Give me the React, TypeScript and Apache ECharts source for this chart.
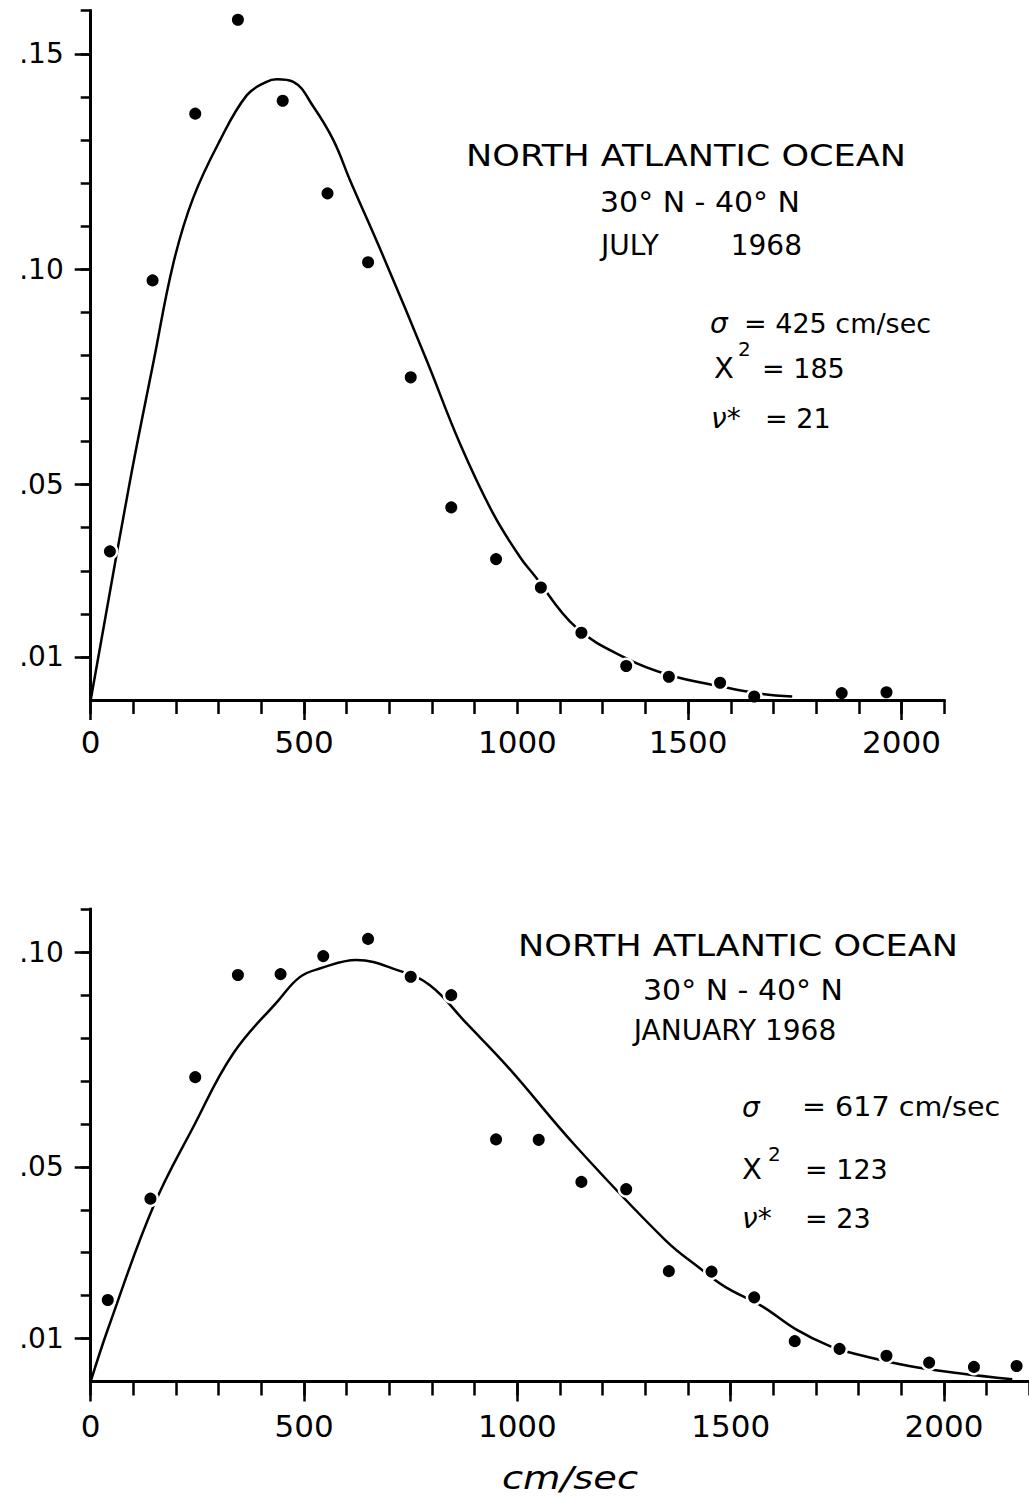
import React, { useEffect, useRef } from "react";
import * as echarts from "echarts";

const FONT = '"DejaVu Sans", "Noto Sans", sans-serif';

// ---------- Top panel: JULY 1968 ----------
const julyObsX = [45, 145, 245, 345, 450, 555, 650, 750, 845, 950, 1055, 1150, 1255, 1355, 1475, 1555, 1760, 1865];
const julyObsY = [0.0345, 0.0974, 0.1361, 0.1579, 0.1391, 0.1176, 0.1016, 0.0749, 0.0447, 0.0327, 0.0261, 0.0156, 0.0079, 0.0054, 0.004, 0.0008, 0.0016, 0.0018];
const julyFitX = [0, 90, 148, 194, 240, 303, 366, 412, 436, 475, 522, 569, 608, 686, 787, 865, 943, 1006, 1039, 1137, 1254, 1355, 1480, 1574, 1644];
const julyFitY = [0, 0.0497, 0.0789, 0.1015, 0.1165, 0.1299, 0.1404, 0.1435, 0.1441, 0.1435, 0.1377, 0.1299, 0.1206, 0.1029, 0.0789, 0.0596, 0.0433, 0.0332, 0.029, 0.0169, 0.0097, 0.0058, 0.0031, 0.0014, 0.0008];
const julyXMax = 2000;
const julyYMax = 0.16;
const julyXLabelValues = [0, 500, 1000, 1400, 1900];
const julyXLabels = ["0", "500", "1000", "1500", "2000"];
const julyXMajorTicks = [0, 500, 1400, 1900];
const julyYLabelValues = [0.01, 0.05, 0.1, 0.15];
const julyYLabels = [".01", ".05", ".10", ".15"];

// ---------- Bottom panel: JANUARY 1968 ----------
const janObsX = [40, 140, 245, 345, 445, 545, 650, 750, 845, 950, 1050, 1150, 1255, 1355, 1455, 1555, 1650, 1755, 1865, 1965, 2070, 2170];
const janObsY = [0.019, 0.0426, 0.0709, 0.0947, 0.0949, 0.0991, 0.1031, 0.0943, 0.09, 0.0564, 0.0563, 0.0465, 0.0448, 0.0257, 0.0256, 0.0196, 0.0094, 0.0076, 0.006, 0.0044, 0.0034, 0.0036];
const janFitX = [0, 41, 147, 241, 334, 440, 490, 537, 623, 717, 795, 881, 980, 1137, 1346, 1430, 1488, 1574, 1652, 1731, 1793, 1918, 2035, 2160];
const janFitY = [0, 0.0124, 0.0408, 0.0594, 0.0764, 0.0888, 0.0942, 0.0962, 0.0982, 0.0959, 0.0923, 0.0834, 0.073, 0.0548, 0.033, 0.0262, 0.022, 0.0175, 0.0122, 0.0083, 0.0064, 0.0036, 0.0019, 0.0005];
const janXMax = 2200;
const janYMax = 0.11;
const janXLabelValues = [0, 500, 1000, 1500, 2000];
const janXLabels = ["0", "500", "1000", "1500", "2000"];
const janXMajorTicks = [0, 500, 1000, 1500, 2000];
const janYLabelValues = [0.01, 0.05, 0.1];
const janYLabels = [".01", ".05", ".10"];

const X_STEP = 100;
const Y_STEP = 0.01;

function steps(step: number, end: number): number[] {
  const out: number[] = [];
  for (let k = 1; k * step <= end + 1e-9; k++) out.push(Math.round(k * step * 10000) / 10000);
  return out;
}

function labelFor(v: number, vals: number[], labels: string[]): string {
  for (let i = 0; i < vals.length; i++) if (Math.abs(vals[i] - v) < 1e-6) return labels[i];
  return "";
}

const INK = "#000";

function makeXAxes(gridIndex: number, max: number, labelVals: number[], labels: string[], majors: number[], margin: number) {
  return [
    {
      type: "value", gridIndex, min: 0, max, position: "bottom", z: 10,
      axisLine: { show: true, onZero: false, lineStyle: { color: INK, width: 3, cap: "square" } },
      axisTick: { show: true, customValues: [0, ...steps(X_STEP, max)], length: 14, lineStyle: { color: INK, width: 2.5 } },
      axisLabel: {
        show: true, customValues: labelVals,
        formatter: (v: number) => labelFor(v, labelVals, labels),
        color: INK, fontSize: 31, fontFamily: FONT, margin,
      },
      splitLine: { show: false },
    },
    {
      type: "value", gridIndex, min: 0, max, position: "bottom", z: 10,
      axisLine: { show: false, onZero: false },
      axisTick: { show: true, customValues: majors, length: 20, lineStyle: { color: INK, width: 2.5 } },
      axisLabel: { show: false },
      splitLine: { show: false },
    },
  ];
}

function makeYAxes(gridIndex: number, max: number, labelVals: number[], labels: string[]) {
  return [
    {
      type: "value", gridIndex, min: 0, max, position: "left", z: 10,
      axisLine: { show: true, onZero: false, lineStyle: { color: INK, width: 3, cap: "square" } },
      axisTick: { show: true, customValues: steps(Y_STEP, max), length: 10, lineStyle: { color: INK, width: 2.5 } },
      axisLabel: {
        show: true, customValues: labelVals,
        formatter: (v: number) => labelFor(v, labelVals, labels),
        color: INK, fontSize: 28, fontFamily: FONT, margin: 27,
      },
      splitLine: { show: false },
    },
    {
      type: "value", gridIndex, min: 0, max, position: "left", z: 10,
      axisLine: { show: false, onZero: false },
      axisTick: { show: true, customValues: labelVals, length: 16, lineStyle: { color: INK, width: 2.5 } },
      axisLabel: { show: false },
      splitLine: { show: false },
    },
  ];
}

function txt(text: string, x: number, y: number, fontSize: number, opts: any = {}) {
  const align = opts.align || "left";
  return {
    type: "text",
    x, y,
    scaleX: opts.scaleX || 1,
    z: 20,
    style: {
      text,
      fontSize,
      fontFamily: FONT,
      fontStyle: opts.italic ? "italic" : "normal",
      fill: INK,
      align, textAlign: align,
      verticalAlign: "middle", textVerticalAlign: "middle",
    },
  };
}

function pairs(xs: number[], ys: number[]) {
  return xs.map((x, i) => [x, ys[i]]);
}

const dotStyle = { color: INK, opacity: 1, borderColor: "#fff", borderWidth: 2.5 };

export default function App() {
  const ref = useRef<HTMLDivElement>(null);

  useEffect(() => {
    document.body.style.margin = "0";
    if (!ref.current) return;
    const chart = echarts.init(ref.current, undefined, { renderer: "svg" });

    const option: any = {
      animation: false,
      backgroundColor: "#fff",
      grid: [
        { left: 90.7, top: 10.7, width: 853.4, height: 689.3, containLabel: false, outerBoundsMode: "none" },
        { left: 90.7, top: 909.3, width: 938.7, height: 472.2, containLabel: false, outerBoundsMode: "none" },
      ],
      xAxis: [
        ...makeXAxes(0, julyXMax, julyXLabelValues, julyXLabels, julyXMajorTicks, 26),
        ...makeXAxes(1, janXMax, janXLabelValues, janXLabels, janXMajorTicks, 29),
      ],
      yAxis: [
        ...makeYAxes(0, julyYMax, julyYLabelValues, julyYLabels),
        ...makeYAxes(1, janYMax, janYLabelValues, janYLabels),
      ],
      series: [
        {
          type: "line", xAxisIndex: 0, yAxisIndex: 0, data: pairs(julyFitX, julyFitY),
          showSymbol: false, symbol: "none", smooth: 0.4, silent: true, z: 2,
          lineStyle: { color: INK, width: 2.5 },
        },
        {
          type: "scatter", xAxisIndex: 0, yAxisIndex: 0, data: pairs(julyObsX, julyObsY),
          symbol: "circle", symbolSize: 14.5, silent: true, z: 3,
          itemStyle: dotStyle,
        },
        {
          type: "line", xAxisIndex: 2, yAxisIndex: 2, data: pairs(janFitX, janFitY),
          showSymbol: false, symbol: "none", smooth: 0.4, silent: true, z: 2,
          lineStyle: { color: INK, width: 2.5 },
        },
        {
          type: "scatter", xAxisIndex: 2, yAxisIndex: 2, data: pairs(janObsX, janObsY),
          symbol: "circle", symbolSize: 14.5, silent: true, z: 3,
          itemStyle: dotStyle,
        },
      ],
      graphic: [
        // top annotations
        txt("NORTH ATLANTIC OCEAN", 686, 156, 30, { align: "center", scaleX: 1.17 }),
        txt("30° N - 40° N", 700, 202, 28, { align: "center", scaleX: 1.07 }),
        txt("JULY", 601, 245, 28),
        txt("1968", 802, 245, 28, { align: "right" }),
        txt("σ", 710, 323, 28, { italic: true }),
        txt("= 425 cm/sec", 744, 323, 27),
        txt("X", 714, 368, 29),
        txt("2", 738, 349, 20),
        txt("= 185", 762, 368, 27),
        txt("ν*", 711, 418, 28, { italic: true }),
        txt("= 21", 765, 418, 27),
        // bottom annotations
        txt("NORTH ATLANTIC OCEAN", 738, 946, 30, { align: "center", scaleX: 1.17 }),
        txt("30° N - 40° N", 743, 990, 28, { align: "center", scaleX: 1.07 }),
        txt("JANUARY 1968", 735, 1030, 28, { align: "center" }),
        txt("σ", 742, 1107, 28, { italic: true }),
        txt("= 617 cm/sec", 802, 1107, 27, { scaleX: 1.06 }),
        txt("X", 742, 1169, 29),
        txt("2", 768, 1154, 20),
        txt("= 123", 805, 1169, 27),
        txt("ν*", 742, 1218, 28, { italic: true }),
        txt("= 23", 805, 1218, 27),
        // axis title
        txt("cm/sec", 570, 1478, 32, { align: "center", italic: true, scaleX: 1.2 }),
      ],
    };

    chart.setOption(option);
    return () => chart.dispose();
  }, []);

  return (
    <div
      ref={ref}
      style={{ position: "absolute", left: 0, top: 0, width: 1029, height: 1498, background: "#fff" }}
    />
  );
}
